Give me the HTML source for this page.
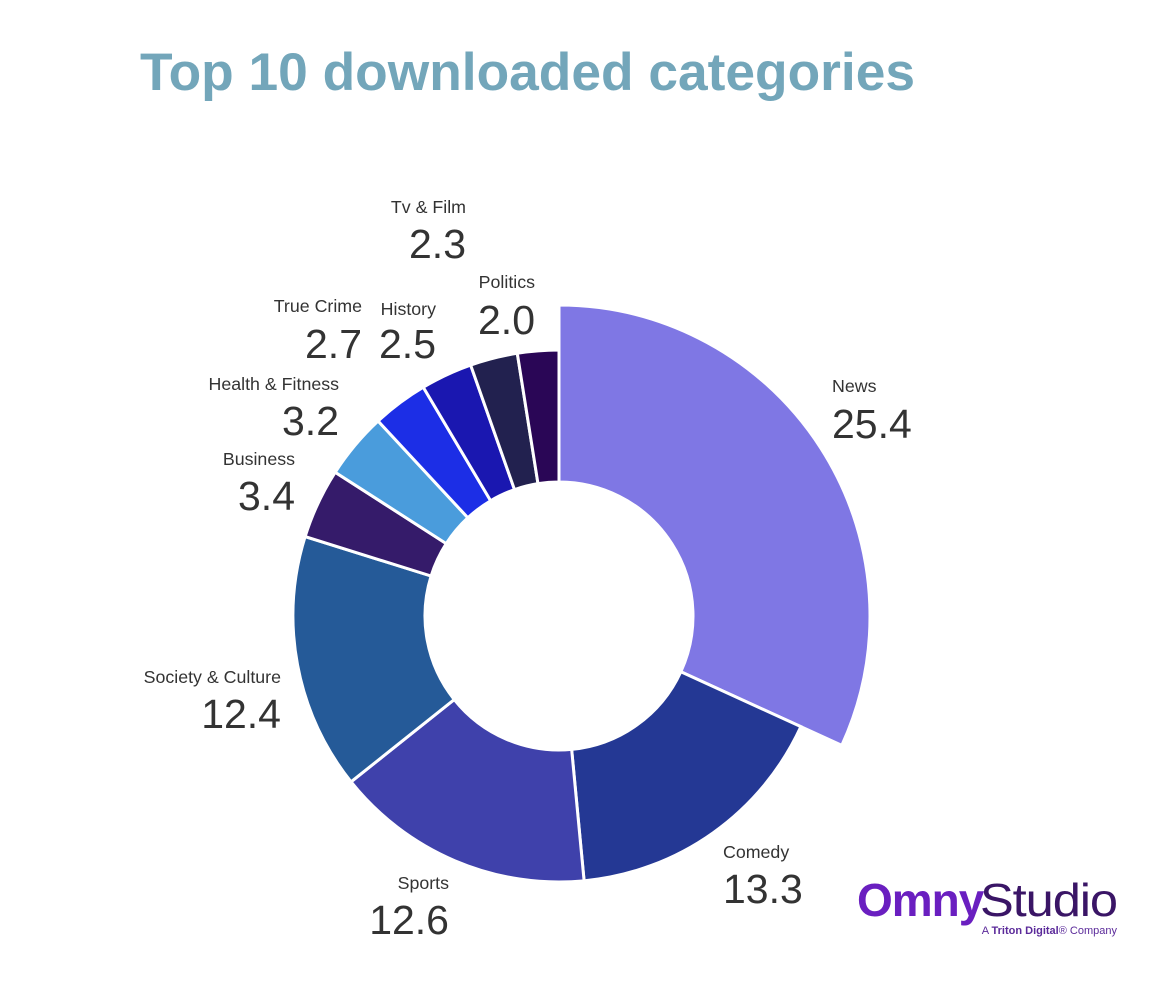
<!DOCTYPE html>
<html><head><meta charset="utf-8"><style>
body{margin:0;background:#fff;width:1168px;height:986px;overflow:hidden;font-family:"Liberation Sans",sans-serif}
</style></head><body>
<svg width="1168" height="986" id="chart">
<text x="140" y="90" font-size="53" font-weight="bold" fill="#73a6ba" textLength="775" lengthAdjust="spacingAndGlyphs">Top 10 downloaded categories</text>
<g>
<text x="857" y="916" font-size="46" font-weight="bold" fill="#6a1fc0" letter-spacing="-1">Omny</text>
<text x="980" y="916" font-size="46" fill="#3a1566" letter-spacing="-1" textLength="137" lengthAdjust="spacingAndGlyphs">Studio</text>
<text x="1117" y="934" font-size="11" fill="#5b2a9a" text-anchor="end">A <tspan font-weight="bold">Triton Digital</tspan>® Company</text>
</g>
<g id="slices"></g><g id="labels"></g>
</svg>
<script>
const categories=["News","Comedy","Sports","Society & Culture","Business","Health & Fitness","True Crime","History","Tv & Film","Politics"];
const values=[25.4,13.3,12.6,12.4,3.4,3.2,2.7,2.5,2.3,2.0];
const valueLabels=["25.4","13.3","12.6","12.4","3.4","3.2","2.7","2.5","2.3","2.0"];
const colors=["#7f77e4","#243894","#3f41ab","#255a98","#351b6a","#4a9cdc","#1c2ee6","#1a17b0","#22214f","#2a0656"];
// label layout: x, name baseline y, value baseline y, anchor
const labelLayout=[[832,392,438,"start"],[723,858,903,"start"],[449,889,934,"end"],[281,683,728,"end"],[295,465,510,"end"],[339,390,435,"end"],[362,312,358,"end"],[436,315,358,"end"],[466,213,258,"end"],[535,288,334,"end"]];
const cx=559,cy=616,R=266,Rbig=311,r=134,NS="http://www.w3.org/2000/svg";
const total=values.reduce((a,b)=>a+b,0);
function pt(a,rad){return [cx+rad*Math.sin(a),cy-rad*Math.cos(a)];}
let a0=0;
const sg=document.getElementById('slices'),lg=document.getElementById('labels');
values.forEach((v,i)=>{
  const a1=a0+v/total*2*Math.PI;
  const RR=i===0?Rbig:R;
  const large=(a1-a0)>Math.PI?1:0;
  const p1=pt(a0,RR),p2=pt(a1,RR),p3=pt(a1,r),p4=pt(a0,r);
  const path=document.createElementNS(NS,'path');
  path.setAttribute('d',`M${p1}A${RR},${RR} 0 ${large} 1 ${p2}L${p3}A${r},${r} 0 ${large} 0 ${p4}Z`);
  path.setAttribute('fill',colors[i]);path.setAttribute('stroke','#fff');path.setAttribute('stroke-width','3');
  
  
  sg.appendChild(path);
  const L=labelLayout[i];
  const t=document.createElementNS(NS,'text');
  t.setAttribute('x',L[0]);t.setAttribute('y',L[1]);t.setAttribute('text-anchor',L[3]);
  t.setAttribute('font-size','17.8');t.setAttribute('fill','#333');t.textContent=categories[i];
  
  
  lg.appendChild(t);
  const t2=document.createElementNS(NS,'text');
  t2.setAttribute('x',L[0]);t2.setAttribute('y',L[2]);t2.setAttribute('text-anchor',L[3]);
  t2.setAttribute('font-size','41');t2.setAttribute('fill','#333');t2.textContent=valueLabels[i];
  
  
  lg.appendChild(t2);
  a0=a1;
});
</script>
</body></html>
